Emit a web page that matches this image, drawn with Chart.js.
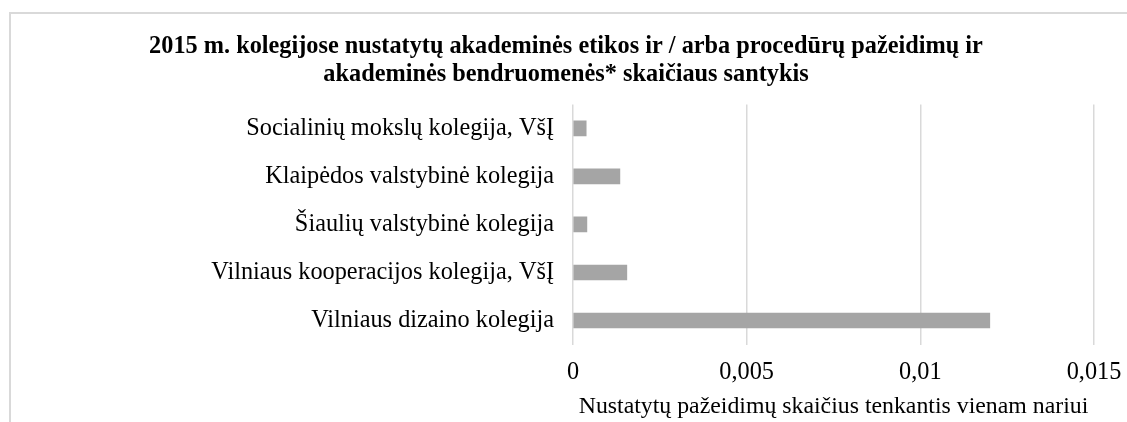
<!DOCTYPE html>
<html>
<head>
<meta charset="utf-8">
<script src="https://cdn.jsdelivr.net/npm/chart.js@4.4.1/dist/chart.umd.min.js"></script>
<style>
    html, body { margin: 0; background: #fff; overflow: hidden; }
    #frame { position: absolute; left: 9px; top: 12px; width: 1118px; height: 410px;
             border-top: 2px solid #d9d9d9; border-left: 2px solid #d9d9d9; box-sizing: border-box; }
    #wrap { position: absolute; left: 0; top: 0; width: 1127px; height: 422px; }
</style>
</head>
<body>
<div id="frame"></div>
<div id="wrap"><canvas id="chart"></canvas></div>
<script>
const titleLines = [
    '2015 m. kolegijose nustatytų akademinės etikos ir / arba procedūrų pažeidimų ir',
    'akademinės bendruomenės* skaičiaus santykis'
];
const colleges = [
    'Socialinių mokslų kolegija, VšĮ',
    'Klaipėdos valstybinė kolegija',
    'Šiaulių valstybinė kolegija',
    'Vilniaus kooperacijos kolegija, VšĮ',
    'Vilniaus dizaino kolegija'
];
const violationsPerMember = [0.00038, 0.00135, 0.0004, 0.00155, 0.012];
const xAxisTitle = 'Nustatytų pažeidimų skaičius tenkantis vienam nariui';

Chart.defaults.font.family = 'Liberation Serif';
Chart.defaults.color = '#000000';

const ctx = document.getElementById('chart').getContext('2d');
new Chart(ctx, {
    type: 'bar',
    data: {
        labels: colleges,
        datasets: [{
            data: violationsPerMember,
            backgroundColor: '#a5a5a5',
            barThickness: 15
        }]
    },
    options: {
        indexAxis: 'y',
        responsive: true,
        maintainAspectRatio: false,
        animation: false,
        layout: {
            padding: { left: 38, right: 33, top: 0, bottom: 0 }
        },
        scales: {
            x: {
                min: 0,
                max: 0.015,
                ticks: {
                    stepSize: 0.005,
                    padding: 14,
                    font: { size: 24.3 },
                    callback: function (value) {
                        return String(+value.toFixed(3)).replace('.', ',');
                    }
                },
                grid: {
                    color: '#d9d9d9',
                    lineWidth: 1.5,
                    drawTicks: false
                },
                border: { display: false },
                title: {
                    display: true,
                    text: xAxisTitle,
                    font: { size: 23.8 },
                    padding: { top: 0, bottom: 1 }
                },
                afterFit: function (scale) {
                    scale.height = 77.5;
                    // keep the plot edge where the reference has it
                    scale.paddingLeft = 0;
                    scale.paddingRight = 0;
                }
            },
            y: {
                ticks: {
                    padding: 19,
                    font: { size: 24.3 }
                },
                grid: { display: false, drawTicks: false },
                border: { display: false },
                afterFit: function (scale) {
                    scale.width = 535;
                }
            }
        },
        plugins: {
            legend: { display: false },
            tooltip: { enabled: false },
            title: {
                display: true,
                text: titleLines,
                font: { size: 24.3, weight: 'bold', lineHeight: 1.15 },
                padding: { top: 33, bottom: 15.5 }
            }
        }
    }
});
</script>
</body>
</html>
